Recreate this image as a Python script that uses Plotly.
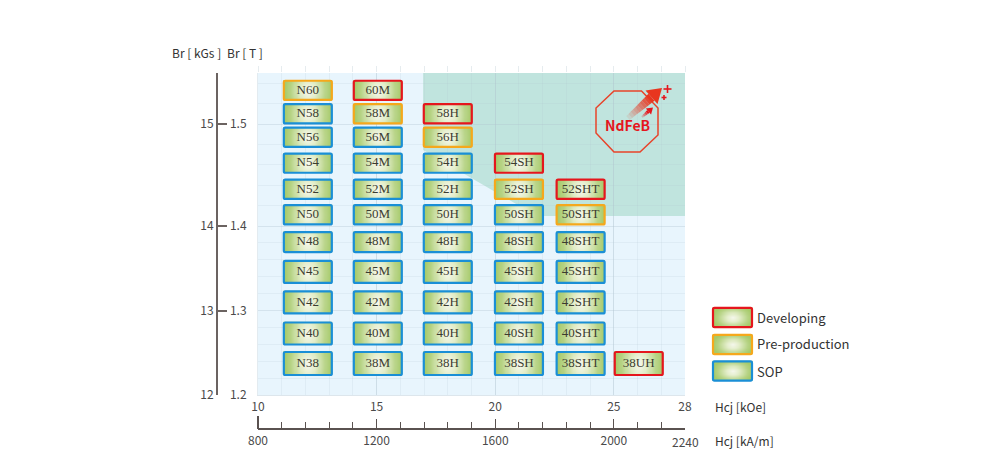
import numpy as np
import plotly.graph_objects as go

# ---- data ----
BR_STOPS = [1.2, 1.3, 1.4, 1.5, 1.55]          # the printed Br axis is not linear
BR_TICKS_T = [1.2, 1.3, 1.4, 1.5]
BR_TICKS_KGS = [12, 13, 14, 15]
BR_MINOR = [1.22, 1.24, 1.26, 1.28, 1.32, 1.34, 1.36, 1.38, 1.42, 1.44, 1.46, 1.48, 1.52, 1.54]
HCJ_KOE_TICKS = [10, 15, 20, 25, 28]
HCJ_KAM_TICKS = [800, 1200, 1600, 2000]

FAMILY_HCJ = {"N": 12.1, "M": 15.05, "H": 18.0, "SH": 21.0, "SHT": 23.6, "UH": 26.05}
LEVEL_BR = {60: 1.533, 58: 1.510, 56: 1.487, 54: 1.4616, 52: 1.436, 50: 1.411,
            48: 1.381, 45: 1.3456, 42: 1.3095, 40: 1.2728, 38: 1.2373}

GRADES_N = ["N60", "N58", "N56", "N54", "N52", "N50", "N48", "N45", "N42", "N40", "N38"]
GRADES_M = ["60M", "58M", "56M", "54M", "52M", "50M", "48M", "45M", "42M", "40M", "38M"]
GRADES_H = ["58H", "56H", "54H", "52H", "50H", "48H", "45H", "42H", "40H", "38H"]
GRADES_SH = ["54SH", "52SH", "50SH", "48SH", "45SH", "42SH", "40SH", "38SH"]
GRADES_SHT = ["52SHT", "50SHT", "48SHT", "45SHT", "42SHT", "40SHT", "38SHT"]
GRADES_UH = ["38UH"]
DEVELOPING = ["60M", "58H", "54SH", "52SHT", "38UH"]
PRE_PRODUCTION = ["N60", "58M", "56H", "52SH", "50SHT"]
LEGEND_LABELS = ["Developing", "Pre-production", "SOP"]

# ---- styles ----
RED, ORANGE, BLUE = "#e5161d", "#f5a81c", "#1a8fd6"
SANS = "Noto Sans CJK SC, Noto Sans, sans-serif"
TXT = "#333333"
GREEN_SCALE = [[0, "#f6f8ee"], [0.3, "#e4eecb"], [0.75, "#b6d384"], [1, "#a6ca69"]]
STOP_POS = [0, 84.5, 169, 271, 322]
LEVEL_HALF = {60: 9.6, 58: 9.6, 56: 9.6, 54: 9.6, 52: 9.6, 50: 9.6, 48: 10, 45: 11, 42: 11, 40: 11, 38: 11.5}
KOE_PX = 427 / 18

# the page has an 8 px body margin: the figure occupies 8..992 x 8..462
OFF, W, H = 8, 984, 454


def fx(px):
    return (px - OFF) / W


def fy(py):
    return (OFF + H - py) / H


def pos(br):
    return np.interp(br, BR_STOPS, STOP_POS)


def parse(grade):
    level = int("".join(c for c in grade if c.isdigit()))
    family = "".join(c for c in grade if c.isalpha())
    return family, level


def rounded(x0, x1, y0, y1, rx, ry):
    return (f"M{x0+rx},{y0} L{x1-rx},{y0} Q{x1},{y0} {x1},{y0+ry} L{x1},{y1-ry} Q{x1},{y1} {x1-rx},{y1} "
            f"L{x0+rx},{y1} Q{x0},{y1} {x0},{y1-ry} L{x0},{y0+ry} Q{x0},{y0} {x0+rx},{y0} Z")


def glow(vscale):
    u = np.linspace(-1, 1, 41)
    v = np.linspace(-1, 1, 17)
    uu, vv = np.meshgrid(u, v)
    return np.clip(np.sqrt(uu ** 2 + (vscale * vv) ** 2), 0, 1)


fig = go.Figure()
shapes = []

# plot background and high-coercivity teal zone
shapes.append(dict(type="rect", xref="x", yref="y", x0=10, x1=28, y0=0, y1=322,
                   fillcolor="#e8f5fd", line_width=0, layer="below"))
zone_x = [16.96, 28, 28, 21.75, 16.96]
zone_y = [322, 322, 179, 179, 245]
shapes.append(dict(type="path", xref="x", yref="y", layer="below", line_width=0, fillcolor="#c0e4de",
                   path="M" + " L".join(f"{a},{b}" for a, b in zip(zone_x, zone_y)) + " Z"))

# grade cells
all_grades = GRADES_N + GRADES_M + GRADES_H + GRADES_SH + GRADES_SHT + GRADES_UH
txt_x, txt_y = [], []
for g in all_grades:
    fam, lev = parse(g)
    cx = FAMILY_HCJ[fam]
    cy = float(pos(LEVEL_BR[lev]))
    hh = LEVEL_HALF[lev]
    hw = 24 / KOE_PX
    fig.add_trace(go.Heatmap(
        x=np.linspace(cx - hw, cx + hw, 41), y=np.linspace(cy - hh, cy + hh, 17),
        z=glow(0.3), zmin=0, zmax=1, colorscale=GREEN_SCALE, zsmooth="best",
        showscale=False, hoverinfo="skip"))
    col = RED if g in DEVELOPING else ORANGE if g in PRE_PRODUCTION else BLUE
    shapes.append(dict(type="path", xref="x", yref="y", layer="above",
                       path=rounded(cx - hw, cx + hw, cy - hh, cy + hh, 1.5 / KOE_PX, 1.5),
                       line=dict(color=col, width=2.2)))
    txt_x.append(cx)
    txt_y.append(cy)

fig.add_trace(go.Scatter(x=txt_x, y=txt_y, text=all_grades, mode="text", hoverinfo="skip",
                         textfont=dict(family="Liberation Serif, serif", size=13, color="#3c3c30"),
                         showlegend=False))

# legend (page-pixel overlay axes)
for label, col, cy in zip(LEGEND_LABELS, [RED, ORANGE, BLUE], [317.5, 344.5, 371]):
    fig.add_trace(go.Heatmap(
        x=np.linspace(713, 752, 41), y=np.linspace(cy - 9.6, cy + 9.6, 17), z=glow(0.75),
        zmin=0, zmax=1, colorscale=GREEN_SCALE, zsmooth="best", showscale=False,
        hoverinfo="skip", xaxis="x4", yaxis="y4"))
    shapes.append(dict(type="path", xref="x4", yref="y4", layer="above",
                       path=rounded(713, 752, cy - 9.6, cy + 9.6, 1.5, 1.5),
                       line=dict(color=col, width=2.2)))

# NdFeB badge, in page pixels
LOGO = "#e8432a"
octagon = [(614, 91), (641.5, 91), (658, 108), (658, 135), (640, 152), (614, 152), (596, 133), (596, 108)]
shapes.append(dict(type="path", xref="x4", yref="y4", layer="above",
                   path="M" + " L".join(f"{a},{b}" for a, b in octagon) + " Z",
                   line=dict(color=LOGO, width=1.5)))


def poly(pts, col, op=1.0):
    return dict(type="path", xref="x4", yref="y4", layer="above", line_width=0, fillcolor=col, opacity=op,
                path="M" + " L".join(f"{a:.1f},{b:.1f}" for a, b in pts) + " Z")


def arrow(tail, tip, shaft, head_w, head_l, col, segs):
    t = np.array(tail, float)
    e = np.array(tip, float)
    d = (e - t) / np.hypot(*(e - t))
    n = np.array([-d[1], d[0]])
    base = e - d * head_l
    for i in range(segs):
        a = t + (base - t) * i / segs
        b = t + (base - t) * (i + 1) / segs
        w0 = shaft * (0.55 + 0.45 * i / segs)
        w1 = shaft * (0.55 + 0.45 * (i + 1) / segs)
        shapes.append(poly([a + n * w0, b + n * w1, b - n * w1, a - n * w0], col, (i + 1) / segs))
    shapes.append(poly([e, base + n * head_w, base - n * head_w], col))


arrow((628, 118), (662, 88), 4.6, 9, 14, "#e8361f", 10)
arrow((642, 117), (653, 107.5), 1.8, 4, 6, "#e5161d", 4)
for (cx, cy, r) in [(667.5, 89, 4), (664, 97.5, 2.5)]:
    shapes.append(dict(type="line", xref="x4", yref="y4", x0=cx - r, x1=cx + r, y0=cy, y1=cy,
                       line=dict(color=RED, width=1.6), layer="above"))
    shapes.append(dict(type="line", xref="x4", yref="y4", x0=cx, x1=cx, y0=cy - r, y1=cy + r,
                       line=dict(color=RED, width=1.6), layer="above"))

# taller start tick of the lower Hcj axis
shapes.append(dict(type="line", xref="x4", yref="y4", x0=258, x1=258, y0=416, y1=429,
                   line=dict(color="#5a5250", width=2)))


def note(text, x, y, size=12, anchor="left", color=TXT):
    return dict(text=text, x=x, y=y, xref="x4", yref="y4", xanchor=anchor, yanchor="middle",
                showarrow=False, font=dict(family=SANS, size=size, color=color))


annotations = [
    note("Br [ kGs ]", 196, 52, anchor="center"),
    note("Br [ T ]", 245, 52, anchor="center"),
    note("Hcj [kOe]", 713, 406),
    note("Hcj [kA/m]", 713, 440),
    note("2240", 685, 441, anchor="center", color="#4a4a4a"),
    note("<b>NdFeB</b>", 627.5, 125, size=14, anchor="center", color=RED),
]
for label, cy in zip(LEGEND_LABELS, [317, 343, 371]):
    annotations.append(note(label, 755, cy, size=13))

GRID_MAJOR = "rgba(175,195,205,0.35)"
GRID_MINOR = "rgba(175,195,205,0.16)"
AXIS = "#6b6361"
tfont = dict(family=SANS, size=12, color="#4a4a4a")

fig.update_layout(
    width=W, height=H, margin=dict(l=0, r=0, t=0, b=0, autoexpand=False),
    paper_bgcolor="white", plot_bgcolor="rgba(0,0,0,0)", showlegend=False,
    shapes=shapes, annotations=annotations,
    xaxis=dict(domain=[fx(258), fx(685)], range=[10, 28], anchor="y", tickmode="array",
               tickvals=HCJ_KOE_TICKS, ticktext=[str(v) for v in HCJ_KOE_TICKS], tickfont=tfont,
               ticks="outside", ticklen=1, tickcolor="rgba(0,0,0,0)", showgrid=True, gridcolor=GRID_MAJOR,
               gridwidth=1, zeroline=False, showline=True, linecolor="#dde6ec",
               minor=dict(tickmode="linear", tick0=10, dtick=1, showgrid=True, gridcolor=GRID_MINOR, gridwidth=1)),
    yaxis=dict(domain=[fy(395), fy(73)], range=[0, 322], anchor="x", tickmode="array",
               tickvals=[float(pos(v)) for v in BR_TICKS_T], ticktext=[f"{v:.1f}" for v in BR_TICKS_T],
               tickfont=tfont, ticks="outside", ticklen=8, tickcolor="rgba(0,0,0,0)", showgrid=True,
               gridcolor=GRID_MAJOR, gridwidth=1, zeroline=False, showline=True, linecolor="#e3ebf0",
               minor=dict(tickmode="array", tickvals=[float(pos(v)) for v in BR_MINOR], showgrid=True,
                          gridcolor=GRID_MINOR, gridwidth=1)),
    # lower Hcj axis in kA/m
    xaxis2=dict(overlaying="x", anchor="free", position=fy(429), range=[800, 2240], side="bottom",
                tickmode="array", tickvals=HCJ_KAM_TICKS, ticktext=[str(v) for v in HCJ_KAM_TICKS],
                tickfont=tfont, ticks="inside", ticklen=9, tickwidth=1.4, tickcolor="#5a5250",
                ticklabelstandoff=1,
                showgrid=False, zeroline=False, showline=True, linecolor="#5a5250", linewidth=2,
                minor=dict(tickmode="linear", tick0=800, dtick=80, ticks="inside", ticklen=6,
                           tickwidth=1.2, tickcolor="#5a5250", showgrid=False)),
    # short stubs above the plot
    xaxis3=dict(overlaying="x", anchor="y", side="top", range=[10, 28], tickmode="linear", tick0=10, dtick=1,
                ticks="outside", ticklen=6, tickwidth=1, tickcolor="#e6ecef", showticklabels=False,
                showgrid=False, zeroline=False),
    # left kGs axis
    yaxis2=dict(overlaying="y", anchor="free", position=fx(217), range=[0, 322], side="left", tickmode="array",
                tickvals=[float(pos(v / 10)) for v in BR_TICKS_KGS] + [322],
                ticktext=[str(v) for v in BR_TICKS_KGS] + [""], tickfont=tfont, ticks="inside", ticklen=9,
                tickwidth=1.6, tickcolor=AXIS, showgrid=False, zeroline=False, showline=True,
                linecolor=AXIS, linewidth=2),
    # page-pixel overlay for legend, badge and free labels
    xaxis4=dict(domain=[0, 1], range=[OFF, OFF + W], anchor="y4", visible=False),
    yaxis4=dict(domain=[0, 1], range=[OFF + H, OFF], anchor="x4", visible=False),
)
# keep the helper axes alive
fig.add_trace(go.Scatter(x=[800], y=[0], xaxis="x2", yaxis="y", mode="markers", marker_opacity=0,
                         hoverinfo="skip"))
fig.add_trace(go.Scatter(x=[10], y=[0], xaxis="x3", yaxis="y", mode="markers", marker_opacity=0,
                         hoverinfo="skip"))
fig.add_trace(go.Scatter(x=[10], y=[0], xaxis="x", yaxis="y2", mode="markers", marker_opacity=0,
                         hoverinfo="skip"))

fig.write_html("out.html", config=dict(displayModeBar=False))
